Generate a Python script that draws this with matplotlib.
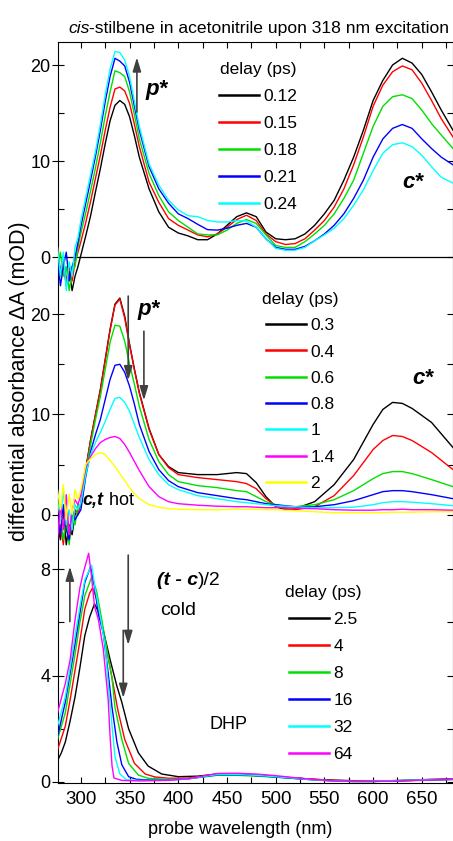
"""
Transient absorption spectra of cis-stilbene (three delay ranges, stacked).
"""

import matplotlib
matplotlib.use("Agg")
import matplotlib.pyplot as plt
from matplotlib.ticker import MultipleLocator

plt.rcParams["font.family"] = ["Liberation Sans", "DejaVu Sans"]

# ── Top panel: early delays ──────────────────────────────────────────
TOP_WL = [276, 279, 282, 285, 288, 291, 294, 297,
          300, 305, 310, 315, 320, 325, 330, 335, 340, 345, 350, 355, 360,
          370, 380, 390, 400, 410, 420, 430, 440, 450, 460, 470, 480, 490,
          500, 510, 520, 530, 540, 550, 560, 570, 580, 590, 600, 610, 620,
          630, 640, 650, 660, 670, 682]
TOP_012 = [0.5, -2, -0.5, -3, -1.5, -3.5, -2, -1,
           0.2, 2.2, 4.3, 6.8, 9.2, 11.8, 14.2, 15.8, 16.3, 15.9, 14.6, 12.6, 10.4,
           7.1, 4.7, 3.1, 2.5, 2.2, 1.8, 1.8, 2.4, 3.3, 4.2, 4.6, 4.2, 2.6,
           1.9, 1.8, 1.9, 2.4, 3.3, 4.5, 5.9, 8.0, 10.4, 13.2, 16.3, 18.4, 20.0,
           20.7, 20.2, 19.0, 17.2, 15.3, 13.2]
TOP_015 = [1, -1.5, 0, -2.5, -1, -2.5, -0.5, 0.5,
           1.6, 3.6, 5.8, 8.2, 10.6, 13.2, 15.6, 17.5, 17.7, 17.3, 16.0, 13.8, 11.5,
           7.8, 5.7, 4.0, 3.3, 2.8, 2.3, 2.1, 2.4, 3.1, 3.9, 4.35, 3.8, 2.4,
           1.6, 1.3, 1.4, 1.9, 2.8, 3.8, 5.2, 7.1, 9.6, 12.5, 15.7, 17.9, 19.3,
           19.9, 19.5, 18.1, 16.3, 14.4, 12.5]
TOP_018 = [-1, 0.5, -2, -1, -3.5, -1.5, -1, 1,
           2.5, 4.6, 6.9, 9.3, 11.9, 14.7, 17.2, 19.4, 19.2, 18.8, 17.2, 14.8, 12.3,
           8.7, 6.4, 4.7, 3.8, 3.1, 2.4, 2.3, 2.3, 2.8, 3.5, 3.9, 3.5, 2.3,
           1.2, 1.0, 1.0, 1.6, 2.4, 3.3, 4.5, 6.1, 8.0, 10.8, 13.6, 15.7, 16.7,
           16.9, 16.5, 15.3, 13.9, 12.7, 11.3]
TOP_021 = [0, -3, -1, 0.5, -2.5, -1, 0, 1.5,
           3.2, 5.6, 8.0, 10.5, 13.2, 16.2, 18.8, 20.7, 20.4, 19.9, 18.2, 15.7, 13.2,
           9.4, 7.1, 5.6, 4.5, 4.0, 3.4, 2.85, 2.8, 3.0, 3.3, 3.5, 3.1, 1.9,
           1.0, 0.8, 0.8, 1.1, 1.7, 2.4, 3.3, 4.5, 6.1, 8.0, 10.4, 12.3, 13.4,
           13.8, 13.4, 12.3, 11.3, 10.4, 9.6]
TOP_024 = [1, -2, 0.5, -3.5, -0.5, -2, 1, 2,
           3.8, 6.2, 8.6, 11.0, 13.8, 16.9, 19.6, 21.4, 21.3, 20.5, 18.8, 16.2, 13.6,
           9.7, 7.5, 5.9, 4.9, 4.3, 4.2, 3.8, 3.65, 3.65, 3.8, 3.75, 3.1, 1.9,
           0.9, 0.7, 0.7, 1.0, 1.7, 2.3, 3.0, 4.0, 5.4, 7.0, 9.0, 10.8, 11.7,
           11.9, 11.5, 10.6, 9.4, 8.3, 7.7]
TOP_DELAYS = ["0.12", "0.15", "0.18", "0.21", "0.24"]
TOP_COLORS = ["black", "#ff0000", "#00e000", "#0000ff", "#00ffff"]

# ── Middle panel: intermediate delays ────────────────────────────────
MID_WL = [276, 279, 282, 285, 288, 291, 294, 297,
          300, 305, 310, 315, 320, 325, 330, 335, 340, 345, 350, 355, 360,
          370, 380, 390, 400, 420, 440, 460, 470, 480, 490, 500, 510, 520,
          540, 560, 580, 600, 610, 620, 630, 640, 660, 682]
MID_03 = [-1, -2.5, 0.5, -3, -1, -2, 0, 0.5,
          1.0, 4.5, 7.5, 10.0, 12.5, 15.5, 18.5, 21.0, 21.6, 19.8, 17.0, 14.5, 12.2,
          8.6, 6.0, 4.8, 4.2, 4.0, 4.0, 4.2, 4.1, 3.2, 1.8, 0.8, 0.5, 0.6,
          1.3, 3.0, 5.5, 9.0, 10.5, 11.2, 11.1, 10.6, 9.2, 6.7]
MID_04 = [-2, -1, -3, 0, -2.5, -1, 0.5, 0,
          1.2, 4.6, 7.4, 10.0, 12.4, 15.4, 18.4, 20.9, 21.5, 19.6, 16.9, 14.4, 12.1,
          8.5, 6.0, 4.7, 4.0, 3.7, 3.5, 3.3, 3.1, 2.6, 1.6, 0.9, 0.6, 0.5,
          0.8, 1.9, 3.9, 6.5, 7.4, 7.9, 7.8, 7.4, 6.2, 4.5]
MID_06 = [-1.5, 0, -2.5, -0.5, -3, 0, -1, 1,
          0.8, 4.2, 7.0, 9.5, 11.8, 14.5, 17.2, 18.9, 18.8, 17.3, 15.0, 13.0, 10.8,
          7.5, 5.3, 4.0, 3.3, 2.9, 2.7, 2.4, 2.3, 1.8, 1.3, 1.0, 0.8, 0.8,
          1.0, 1.5, 2.4, 3.6, 4.1, 4.3, 4.3, 4.1, 3.5, 2.8]
MID_08 = [0, -2, 1, -1.5, -2.5, 0.5, -0.5, 0,
          0.5, 3.8, 6.3, 8.0, 9.5, 11.5, 13.5, 14.9, 15.0, 14.2, 12.8, 11.0, 9.0,
          6.3, 4.5, 3.4, 2.8, 2.2, 1.9, 1.6, 1.5, 1.3, 1.1, 1.0, 0.9, 0.8,
          0.8, 1.0, 1.4, 2.0, 2.3, 2.4, 2.4, 2.3, 2.0, 1.6]
MID_1 = [1.5, -0.5, 2.5, -1, 0.5, -1.5, 1, 0.5,
         1.2, 4.0, 6.0, 7.2, 8.2, 9.3, 10.5, 11.6, 11.7, 11.2, 10.3, 9.0, 7.7,
         5.5, 4.0, 3.0, 2.5, 1.9, 1.6, 1.3, 1.2, 1.1, 1.0, 0.9, 0.85, 0.8,
         0.7, 0.7, 0.75, 1.0, 1.2, 1.3, 1.3, 1.25, 1.1, 0.9]
MID_14 = [-2.5, 1, -1.5, 2, -2, 0.5, 1.5, 1,
          2.0, 4.8, 5.8, 6.6, 7.2, 7.5, 7.7, 7.8, 7.6, 7.0, 6.2, 5.3, 4.4,
          2.8, 1.8, 1.3, 1.1, 0.95, 0.85, 0.8, 0.8, 0.75, 0.7, 0.7, 0.7, 0.65,
          0.6, 0.5, 0.45, 0.45, 0.5, 0.5, 0.55, 0.5, 0.5, 0.45]
MID_2 = [2.5, 0.5, 3, -0.5, 2, 0, 2.5, 1.5,
         2.5, 5.0, 5.6, 6.0, 6.2, 6.0, 5.4, 4.8, 4.1, 3.4, 2.7, 2.1, 1.6,
         1.0, 0.75, 0.6, 0.55, 0.5, 0.5, 0.55, 0.55, 0.55, 0.5, 0.5, 0.45, 0.4,
         0.3, 0.2, 0.2, 0.2, 0.2, 0.25, 0.25, 0.25, 0.3, 0.3]
MID_DELAYS = ["0.3", "0.4", "0.6", "0.8", "1", "1.4", "2"]
MID_COLORS = ["black", "#ff0000", "#00e000", "#0000ff", "#00ffff", "#ff00ff", "#ffff00"]

# ── Bottom panel: late delays (each curve read on its own points) ────
BOT_WL_25 = [276, 280, 284, 289, 294, 299, 304, 309, 314, 318, 323, 330, 337, 342,
             349, 359, 369, 383, 400, 420, 440, 460, 480, 500, 520, 540, 560, 580,
             600, 620, 640, 660, 682]
BOT_25 = [0.8, 1.1, 1.5, 2.3, 3.2, 4.3, 5.5, 6.2, 6.7, 6.4, 5.7, 4.6, 3.6, 3.0,
          2.0, 1.1, 0.6, 0.3, 0.2, 0.22, 0.3, 0.28, 0.25, 0.2, 0.15, 0.1, 0.07, 0.05,
          0.05, 0.05, 0.07, 0.1, 0.12]
BOT_WL_4 = [276, 284, 289, 294, 299, 304, 309, 312, 316, 321, 328, 333, 338, 345,
            355, 366, 376, 390, 410, 440, 460, 480, 500, 520, 540, 560, 580, 600,
            620, 640, 660, 682]
BOT_4 = [1.2, 2.1, 3.1, 4.2, 5.3, 6.5, 7.1, 7.3, 6.9, 6.0, 4.7, 3.7, 2.7, 1.6,
         0.7, 0.3, 0.19, 0.14, 0.15, 0.28, 0.28, 0.25, 0.2, 0.15, 0.1, 0.06, 0.04, 0.04,
         0.05, 0.06, 0.08, 0.1]
BOT_WL_8 = [276, 284, 289, 294, 299, 304, 309, 311, 316, 321, 328, 332, 335, 342,
            349, 359, 369, 390, 410, 440, 460, 480, 500, 520, 540, 560, 580, 600,
            620, 640, 660, 682]
BOT_8 = [1.6, 2.6, 3.7, 4.8, 6.0, 7.0, 7.5, 7.7, 7.2, 6.2, 4.7, 3.9, 2.8, 1.6,
         0.7, 0.26, 0.14, 0.1, 0.12, 0.25, 0.25, 0.22, 0.18, 0.13, 0.08, 0.04, 0.02, 0.02,
         0.03, 0.05, 0.07, 0.1]
BOT_WL_16 = [276, 284, 289, 294, 299, 304, 310, 314, 318, 323, 328, 332, 337, 342,
             349, 357, 370, 390, 410, 440, 460, 480, 500, 520, 540, 560, 580, 600,
             620, 640, 660, 682]
BOT_16 = [1.7, 3.0, 4.1, 5.2, 6.35, 7.5, 8.1, 7.35, 6.3, 5.6, 4.1, 2.8, 1.5, 0.65,
          0.2, 0.1, 0.08, 0.08, 0.12, 0.27, 0.27, 0.24, 0.19, 0.13, 0.08, 0.04, 0.02, 0.02,
          0.04, 0.06, 0.08, 0.1]
BOT_WL_32 = [276, 284, 289, 294, 299, 304, 311, 315, 320, 325, 328, 332, 335, 340,
             347, 360, 390, 410, 440, 460, 480, 500, 520, 540, 560, 580, 600, 620,
             640, 660, 682]
BOT_32 = [2.1, 3.2, 4.3, 5.5, 6.6, 7.6, 8.15, 7.2, 6.2, 5.1, 3.7, 2.1, 0.95, 0.3,
          0.08, 0.06, 0.07, 0.12, 0.28, 0.28, 0.25, 0.2, 0.14, 0.08, 0.04, 0.02, 0.03, 0.05,
          0.07, 0.09, 0.1]
BOT_WL_64 = [276, 284, 289, 294, 299, 302, 308, 311, 314, 318, 323, 328, 330, 332,
             334, 342, 360, 390, 410, 440, 460, 480, 500, 520, 540, 560, 580, 600,
             620, 640, 660, 682]
BOT_64 = [2.6, 3.7, 4.6, 6.1, 7.3, 7.8, 8.6, 7.7, 6.6, 6.1, 5.0, 3.1, 1.7, 0.6,
          0.15, 0.06, 0.04, 0.06, 0.12, 0.32, 0.33, 0.3, 0.24, 0.16, 0.09, 0.04, 0.02, 0.02,
          0.04, 0.06, 0.08, 0.1]
BOT_DELAYS = ["2.5", "4", "8", "16", "32", "64"]
BOT_COLORS = ["black", "#ff0000", "#00e000", "#0000ff", "#00ffff", "#ff00ff"]

XLIM = (276, 681.5)
ARROW_C = "#404040"

W, H = 453, 841


def fx(px):
    return px / W


def fy(py):
    return 1 - py / H


def panel(fig, top_px, bot_px, ylim):
    ax = fig.add_axes([fx(57.5), fy(bot_px), fx(452.5) - fx(57.5),
                       (bot_px - top_px) / H])
    ax.set_xlim(*XLIM)
    ax.set_ylim(*ylim)
    ax.patch.set_alpha(0)
    for s in ax.spines.values():
        s.set_visible(False)
    ax.tick_params(axis="x", which="both", bottom=False, top=False,
                   labelbottom=False)
    ax.tick_params(axis="y", which="major", direction="inout", length=8,
                   width=0.8, left=True, right=True, pad=1, labelsize=13)
    ax.tick_params(axis="y", which="minor", direction="in", length=4,
                   width=0.8, left=True, right=True)
    return ax


def add_legend(ax, lines, labels, x_px, y_px, spacing=0.66):
    leg = ax.legend(lines, labels, title="delay (ps)", frameon=False,
                    loc="upper left", bbox_to_anchor=(fx(x_px), fy(y_px)),
                    bbox_transform=ax.figure.transFigure, borderpad=0,
                    borderaxespad=0, handlelength=2.3, handletextpad=0.25,
                    labelspacing=spacing, fontsize=12.5, title_fontsize=12.5)
    for h in leg.legend_handles:
        h.set_linewidth(1.8)
    return leg


def rich(ax, x, y, parts, fontsize):
    """Text pieces of mixed style on one baseline, starting at data (x, y)."""
    renderer = ax.figure.canvas.get_renderer()
    off = 0.0
    for s, style in parts:
        t = ax.annotate(s, xy=(x, y), xycoords="data", xytext=(off, 0),
                        textcoords="offset pixels", ha="left", va="baseline",
                        fontsize=fontsize, **style)
        off += t.get_window_extent(renderer).width


def arrow(ax, x, y0, y1):
    ax.annotate("", xy=(x, y1), xytext=(x, y0),
                arrowprops=dict(arrowstyle="-|>,head_length=0.6,head_width=0.18",
                                color=ARROW_C, lw=1.2, shrinkA=0, shrinkB=0,
                                mutation_scale=14))


def main():
    fig = plt.figure(figsize=(W / 100, H / 100), dpi=100)

    # frame carrying the shared wavelength axis
    frame = fig.add_axes([fx(57.5), fy(783), fx(452.5) - fx(57.5),
                          (783 - 41.5) / H])
    frame.set_xlim(*XLIM)
    frame.set_ylim(0, 1)
    frame.set_yticks([])
    for s in frame.spines.values():
        s.set_linewidth(0.8)
    frame.xaxis.set_major_locator(MultipleLocator(50))
    frame.xaxis.set_minor_locator(MultipleLocator(25))
    frame.tick_params(axis="x", which="both", direction="in", length=4,
                      width=0.8, top=True, bottom=True, pad=6, labelsize=13.5)
    frame.set_xlabel("probe wavelength (nm)", fontsize=13)
    frame.xaxis.set_label_coords((240 - 57.5) / 395, -(821 - 783) / 741.5)

    # top panel
    ax1 = panel(fig, 41.5, 300, ((257 - 300) / 9.6, (257 - 41.5) / 9.6))
    ax1.yaxis.set_major_locator(MultipleLocator(10))
    ax1.yaxis.set_minor_locator(MultipleLocator(5))
    ax1.axhline(0, color="black", lw=0.9, zorder=1)
    series = [TOP_012, TOP_015, TOP_018, TOP_021, TOP_024]
    lines = [ax1.plot(TOP_WL, v, color=c, lw=1.0)[0]
             for v, c in zip(series, TOP_COLORS)]
    add_legend(ax1, lines, TOP_DELAYS, 219, 62, 0.68)
    arrow(ax1, 357.5, 15.1, 20.8)
    ax1.text(378, 17.5, "p*", fontsize=16, weight="bold", style="italic",
             va="center", ha="center")
    ax1.text(641, 7.8, "c*", fontsize=16, weight="bold", style="italic",
             va="center", ha="center")

    # middle panel
    ax2 = panel(fig, 265, 550, ((515 - 550) / 9.95, 24.9))
    ax2.yaxis.set_major_locator(MultipleLocator(10))
    ax2.yaxis.set_minor_locator(MultipleLocator(5))
    series = [MID_03, MID_04, MID_06, MID_08, MID_1, MID_14, MID_2]
    lines = [ax2.plot(MID_WL, v, color=c, lw=1.0)[0]
             for v, c in zip(series, MID_COLORS)]
    add_legend(ax2, lines, MID_DELAYS, 262, 292, 0.64)
    arrow(ax2, 348.6, 21.8, 13.4)
    arrow(ax2, 364.7, 18.3, 11.4)
    ax2.text(369.8, 20.5, "p*", fontsize=16, weight="bold", style="italic",
             va="center", ha="center")
    ax2.text(651, 13.6, "c*", fontsize=16, weight="bold", style="italic",
             va="center", ha="center")
    rich(ax2, 302, 1.0, [("c,t", dict(weight="bold", style="italic")),
                         (" hot", {})], 13)

    # bottom panel
    ax3 = panel(fig, 530, 783, ((782 - 783) / 26.6, (782 - 530) / 26.6))
    ax3.yaxis.set_major_locator(MultipleLocator(4))
    ax3.yaxis.set_minor_locator(MultipleLocator(2))
    bot = [(BOT_WL_25, BOT_25), (BOT_WL_4, BOT_4), (BOT_WL_8, BOT_8),
           (BOT_WL_16, BOT_16), (BOT_WL_32, BOT_32), (BOT_WL_64, BOT_64)]
    lines = [ax3.plot(wl, v, color=c, lw=1.0)[0]
             for (wl, v), c in zip(bot, BOT_COLORS)]
    add_legend(ax3, lines, BOT_DELAYS, 285, 585, 0.68)
    arrow(ax3, 288.7, 6.03, 8.1)
    arrow(ax3, 348.6, 8.53, 5.15)
    arrow(ax3, 343.5, 5.7, 3.16)
    rich(ax3, 378, 7.4, [("(t - c", dict(weight="bold", style="italic")),
                         (")/2", {})], 14)
    ax3.text(381, 6.28, "cold", fontsize=14, ha="left", va="baseline")
    ax3.text(452, 2.18, "DHP", fontsize=13, ha="center", va="center")

    fig.text(fx(20), fy(381), "differential absorbance \u0394A (mOD)",
             rotation=90, ha="center", va="center", fontsize=15.5)

    # title: italic "cis" followed by upright text on one baseline
    renderer = fig.canvas.get_renderer()
    t = fig.text(fx(68), fy(33), "cis", ha="left", va="baseline",
                 fontsize=12.6, style="italic")
    fig.text(t.get_window_extent(renderer).x1 / W, fy(33),
             "-stilbene in acetonitrile upon 318 nm excitation",
             ha="left", va="baseline", fontsize=12.6)

    fig.savefig("out.png", dpi=100)
    plt.close(fig)


if __name__ == "__main__":
    main()
